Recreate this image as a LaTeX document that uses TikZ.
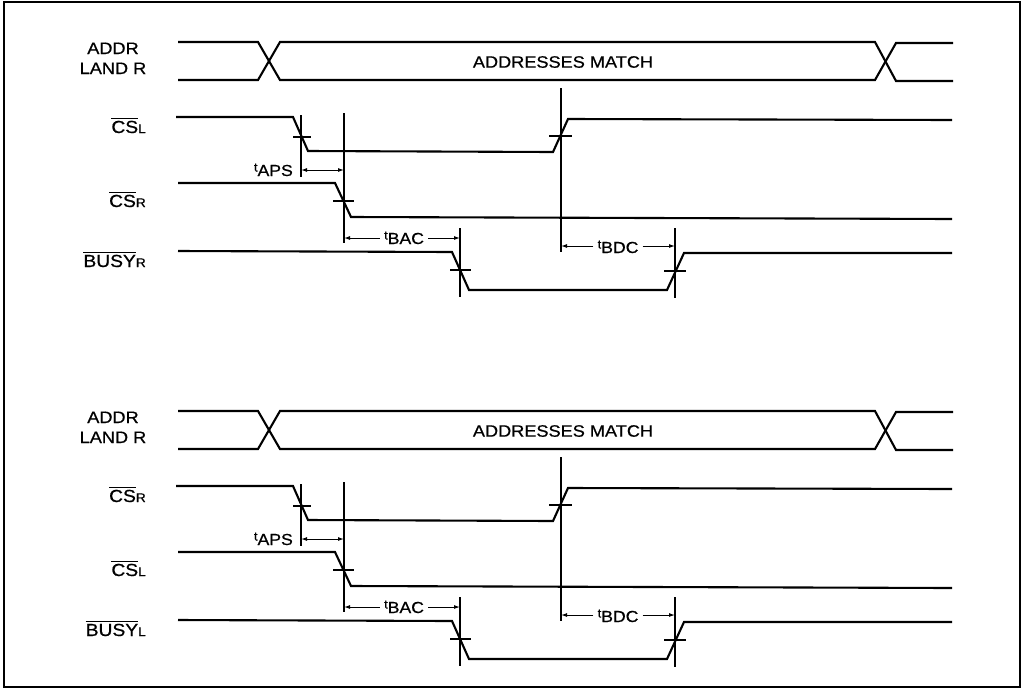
\documentclass[tikz,border=0pt]{standalone}
\usepackage{fontspec}
\setmainfont[FakeStretch=1.1,FakeBold=0.7]{Liberation Sans}
\usetikzlibrary{arrows.meta}
\newcommand{\ovl}[1]{\leavevmode\vbox{\hrule height 1pt\kern1.6pt\hbox{#1}}}
\newcommand{\smallsub}[1]{{\fontsize{12.5}{13}\selectfont #1}}
\newcommand{\tpre}{\raisebox{4.5pt}{\fontsize{12}{13}\selectfont t}}
\tikzset{
  sig/.style={line width=2.1pt, line join=miter},
  thinline/.style={line width=1.2pt},
  arr/.style={line width=1pt, -{Latex[length=6pt,width=4pt]}},
  dimboth/.style={line width=1pt, {Latex[length=6pt,width=4pt]}-{Latex[length=6pt,width=4pt]}},
  lbl/.style={font=\fontsize{17.5}{19}\selectfont, inner sep=0pt},
  addrlbl/.style={font=\fontsize{16.5}{19}\selectfont, inner sep=0pt},
  matchlbl/.style={font=\fontsize{16.5}{19}\selectfont, inner sep=0pt},
  tlbl/.style={font=\fontsize{16}{18}\selectfont, inner sep=0pt, inner xsep=4pt},
}
\newcommand{\tsection}[5]{%
\begin{scope}[yshift=-#2pt]
  % labels
  \node[addrlbl, anchor=base] (#1addr) at (113,54) {ADDR};
  \node[addrlbl, anchor=base] (#1lr) at (113,74) {LAND R};
  \node[lbl, anchor=base east] (#1s1) at (146,133) {#3};
  \node[lbl, anchor=base east] (#1s2) at (146,207) {#4};
  \node[lbl, anchor=base east] (#1s3) at (146,267) {#5};
  % address bus
  \draw[sig] (178,42) -- (258,42) -- (280,80) -- (875,80) -- (896,43) -- (953,43);
  \draw[sig] (178,80) -- (258,80) -- (280,42) -- (875,42) -- (896,81) -- (953,81);
  \node[matchlbl] (#1match) at (563,62) {ADDRESSES MATCH};
  % signals
  \draw[sig] (176,117) -- (293,117) -- (308,151) -- (553,152) -- (568,119) -- (952,120);
  \draw[sig] (178,183) -- (335,183) -- (351,217) -- (952,219);
  \draw[sig] (178,251) -- (452,252) -- (469,290) -- (667,290) -- (684,253) -- (952,253);
  % reference verticals
  \coordinate (#1v1t) at (301,115); \coordinate (#1v1b) at (301,177);
  \coordinate (#1v2t) at (344,113); \coordinate (#1v2b) at (344,243);
  \coordinate (#1v3t) at (460,228); \coordinate (#1v3b) at (460,297);
  \coordinate (#1v4t) at (561,88);  \coordinate (#1v4b) at (561,252);
  \coordinate (#1v5t) at (675,228); \coordinate (#1v5b) at (675,298);
  \draw[thinline] (#1v1t) -- (#1v1b);
  \draw[thinline] (#1v2t) -- (#1v2b);
  \draw[thinline] (#1v3t) -- (#1v3b);
  \draw[thinline] (#1v4t) -- (#1v4b);
  \draw[thinline] (#1v5t) -- (#1v5b);
  % crossing ticks
  \draw[thinline] (293,137) -- (311,137);
  \draw[thinline] (333,201) -- (354,201);
  \draw[thinline] (450,270) -- (471,270);
  \draw[thinline] (549,136) -- (572,136);
  \draw[thinline] (664,271) -- (686,271);
  % timing arrows
  \coordinate (#1a1) at (301,170); \coordinate (#1a2) at (344,170);
  \draw[dimboth] (#1a1) -- (#1a2);
  \node[tlbl, anchor=base east] (#1aps) at (297,176) {\tpre APS};
  \coordinate (#1b1) at (344,238); \coordinate (#1b2) at (460,238);
  \node[tlbl, anchor=base] (#1bac) at (404,244) {\tpre BAC};
  \draw[arr] (#1bac.west |- #1b1) -- (#1b1);
  \draw[arr] (#1bac.east |- #1b2) -- (#1b2);
  \coordinate (#1c1) at (561,246); \coordinate (#1c2) at (675,246);
  \node[tlbl, anchor=base] (#1bdc) at (618,253) {\tpre BDC};
  \draw[arr] (#1bdc.west |- #1c1) -- (#1c1);
  \draw[arr] (#1bdc.east |- #1c2) -- (#1c2);
\end{scope}}
\begin{document}
\begin{tikzpicture}[x=1pt,y=-1pt]
  \useasboundingbox (0,0) rectangle (1025,689);
  \draw[line width=1.6pt] (4,2) rectangle (1020,687);
  \tsection{u}{0}{\ovl{CS}\smallsub{L}}{\ovl{CS}\smallsub{R}}{\ovl{BUSY}\smallsub{R}}
  \tsection{d}{369}{\ovl{CS}\smallsub{R}}{\ovl{CS}\smallsub{L}}{\ovl{BUSY}\smallsub{L}}
\end{tikzpicture}
\end{document}
